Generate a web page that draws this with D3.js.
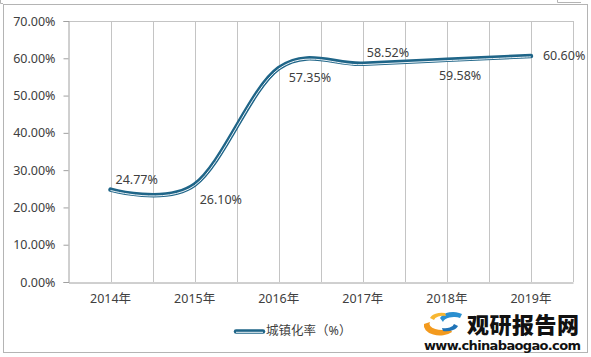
<!DOCTYPE html>
<html><head><meta charset="utf-8">
<script src="https://cdn.jsdelivr.net/npm/d3@7"></script>
<style>body{margin:0;background:#fff;}svg{display:block;}</style>
</head><body>
<svg id="c" width="591" height="357"></svg>
<script>
const categories = ["2014年","2015年","2016年","2017年","2018年","2019年"];
const values = [24.77, 26.10, 57.35, 58.52, 59.58, 60.60];
const yTicks = [0,10,20,30,40,50,60,70];
const seriesName = "城镇化率（%）";

const svg = d3.select("#c");
const font = "'Noto Sans','Noto Sans CJK SC',sans-serif";
const txt = "#404040";
const lineColor = "#1f6588";

// outer border
svg.append("rect").attr("x",3.5).attr("y",4.5).attr("width",584).attr("height",348)
  .attr("fill","#fff").attr("stroke","#b4b4b4");
svg.append("path").attr("d","M0.5,0 V3.5 H3").attr("fill","none").attr("stroke","#b4b4b4");
svg.append("path").attr("d","M557.5,0 V2.5 H581").attr("fill","none").attr("stroke","#b4b4b4");

const pL=68.5, pR=573, pT=21, pB=282;
const x = d3.scaleBand().domain(categories).range([pL,pR]);
const y = d3.scaleLinear().domain([0,70]).range([pB,pT]);
const bw = x.bandwidth();
const cx = c => x(c)+bw/2;

// vertical gridlines at band edges and centres
const gxs = [];
categories.forEach(c=>{gxs.push(x(c)); gxs.push(x(c)+bw/2);});
gxs.push(pR);
svg.append("g").selectAll("line").data(gxs.slice(1)).join("line")
  .attr("x1",d=>Math.round(d)+0.5).attr("x2",d=>Math.round(d)+0.5)
  .attr("y1",pT).attr("y2",pB).attr("stroke","#c4c4c4").attr("stroke-width",1);
// top border of plot
svg.append("line").attr("x1",pL).attr("x2",pR+0.5).attr("y1",pT+0.5).attr("y2",pT+0.5).attr("stroke","#c4c4c4");

// y axis
const yAxis = d3.axisLeft(y).tickValues(yTicks).tickSize(5).tickFormat(d=>d.toFixed(2)+"%");
const ga = svg.append("g").attr("transform",`translate(${pL},0)`).call(yAxis);
ga.select(".domain").attr("stroke","#a0a0a0");
ga.selectAll(".tick line").attr("stroke","#a0a0a0");
ga.selectAll("text").attr("font-family",font).attr("font-size",12.5).attr("fill",txt).attr("x",-13);
// x axis
const xa = svg.append("g").attr("transform",`translate(0,${pB+0.5})`).call(d3.axisBottom(x).tickSize(0).tickPadding(12));
xa.select(".domain").attr("stroke","#a0a0a0");
xa.selectAll("text").attr("font-family",font).attr("font-size",12.5).attr("fill",txt);

// line
const pts = categories.map((c,i)=>[cx(c), y(values[i])]);
const gen = d3.line().curve(d3.curveCatmullRom.alpha(0));
svg.append("path").attr("d",gen(pts)).attr("fill","none").attr("stroke",lineColor).attr("stroke-width",4.5).attr("stroke-linecap","round");
svg.append("path").attr("d",gen(pts)).attr("transform","translate(0,0.8)").attr("fill","none").attr("stroke","#eef4f8").attr("stroke-width",1);

// labels
const offs = [[5,-10],[5,15],[10,9],[4,-11],[-8,16],[12,0]];
svg.append("g").selectAll("text").data(values).join("text")
  .attr("x",(d,i)=>pts[i][0]+offs[i][0]).attr("y",(d,i)=>pts[i][1]+offs[i][1])
  .attr("dy","0.35em").attr("font-family",font).attr("font-size",12.5).attr("fill",txt)
  .text(d=>d.toFixed(2)+"%");

// legend
svg.append("line").attr("x1",236).attr("x2",263).attr("y1",331.5).attr("y2",331.5).attr("stroke",lineColor).attr("stroke-width",4.5).attr("stroke-linecap","round");
svg.append("line").attr("x1",236).attr("x2",263).attr("y1",332.3).attr("y2",332.3).attr("stroke","#eef4f8").attr("stroke-width",1);
svg.append("text").attr("x",266).attr("y",331).attr("dy","0.35em").attr("font-family",font).attr("font-size",12.5).attr("fill",txt).text(seriesName);

// watermark
const wm = svg.append("g");
wm.append("path").attr("d","M440,318 A14,9 0 0 1 462,314 L460,318 A11,6 0 0 0 443,322 Z").attr("fill","#2a8fd0");
wm.append("path").attr("d","M424,324 A16,10 0 0 0 452,332 L450,328 A12,6 0 0 1 430,322 Z").attr("fill","#f39a1e");
wm.append("path").attr("d","M430,318 A12,7 0 0 1 445,313 L446,316 A9,5 0 0 0 434,320 Z").attr("fill","#f7b733");
wm.append("path").attr("d","M458,326 A12,7 0 0 1 443,331 L442,328 A9,5 0 0 0 454,324 Z").attr("fill","#1f73b7");
wm.append("text").attr("x",467).attr("y",333).attr("font-family","'Noto Sans CJK SC',sans-serif").attr("font-weight","900")
  .attr("font-size",22).attr("fill","#111").attr("textLength",112).text("观研报告网");
wm.append("text").attr("x",424).attr("y",350).attr("font-family","'DejaVu Sans',sans-serif").attr("font-weight","bold")
  .attr("font-size",13).attr("fill","#111").attr("textLength",157).text("www.chinabaogao.com");
</script>
</body></html>
